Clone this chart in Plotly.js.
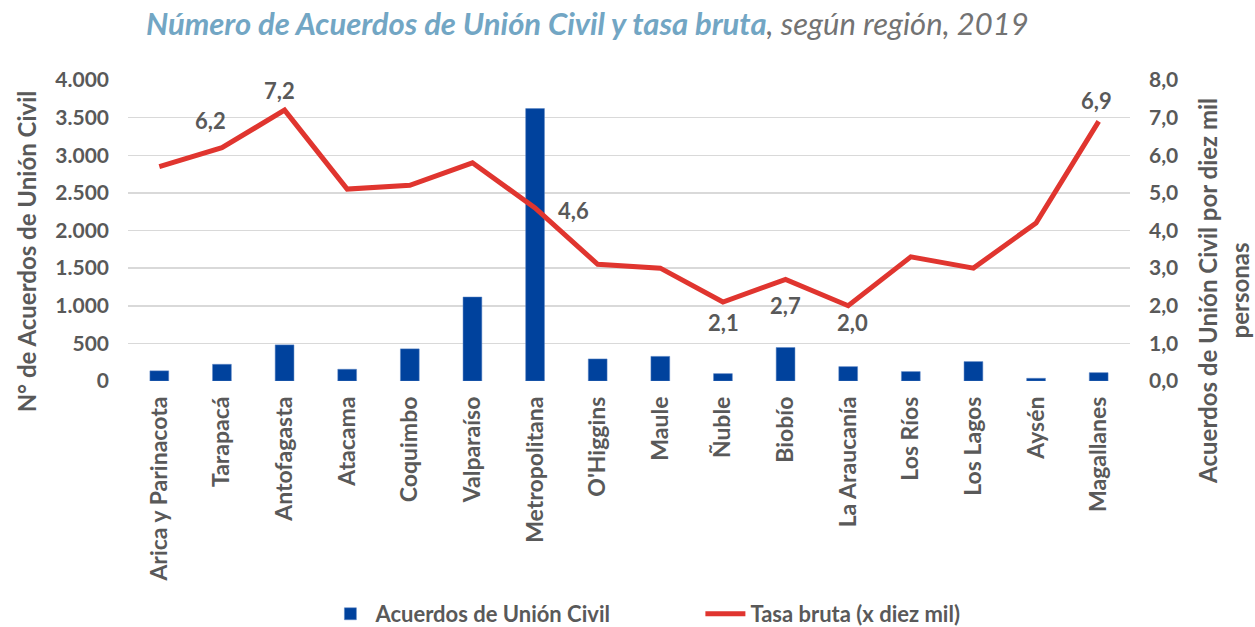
<!DOCTYPE html>
<html>
<head>
<meta charset="utf-8">
<script src="https://cdn.plot.ly/plotly-3.0.1.min.js"></script>
<style>
  body { margin: 0; background: #ffffff; }
  #chart { width: 1255px; height: 627px; }
</style>
</head>
<body>
<div id="chart"></div>
<script>
// datos
var regiones = ["Arica y Parinacota", "Tarapacá", "Antofagasta", "Atacama", "Coquimbo",
  "Valparaíso", "Metropolitana", "O'Higgins", "Maule", "Ñuble", "Biobío",
  "La Araucanía", "Los Ríos", "Los Lagos", "Aysén", "Magallanes"];
var acuerdos = [135, 222, 480, 156, 427, 1116, 3620, 293, 327, 98, 445, 191, 125, 258, 36, 111];
var tasa = [5.7, 6.2, 7.2, 5.1, 5.2, 5.8, 4.6, 3.1, 3.0, 2.1, 2.7, 2.0, 3.3, 3.0, 4.2, 6.9];
// etiquetas de datos visibles: indice -> desplazamiento [x, y] en px
var etiquetas = {1: [-11, 27], 2: [-5, 20], 6: [38, -3], 9: [1, -21],
  10: [0, -26], 11: [4, -17], 15: [-2, 21]};

var gris = "#595959";
var fuente = "Lato, 'Open Sans', sans-serif";

var trazas = [{
  type: "bar",
  name: "Acuerdos de Unión Civil",
  x: regiones,
  y: acuerdos,
  marker: { color: "#00429d", line: { color: "#5b84c4", width: 0.5 } },
  yaxis: "y"
}, {
  type: "scatter",
  mode: "lines",
  name: "Tasa bruta (x diez mil)",
  x: regiones,
  y: tasa,
  yaxis: "y2",
  line: { color: "#e0352f", width: 5 },
  cliponaxis: false
}];

var anotaciones = Object.keys(etiquetas).map(function (k) {
  var i = +k;
  return {
    x: regiones[i], y: tasa[i], xref: "x", yref: "y2",
    text: tasa[i].toFixed(1).replace(".", ","),
    showarrow: false,
    xshift: etiquetas[i][0], yshift: etiquetas[i][1],
    font: { family: fuente, size: 22, color: gris, weight: "bold" }
  };
});

// titulos de ejes
anotaciones.push({
  text: "N° de Acuerdos de Unión Civil",
  xref: "paper", yref: "paper", x: -0.101, y: 0.43,
  xanchor: "center", yanchor: "middle", textangle: -90, showarrow: false,
  font: { family: fuente, size: 24, color: gris, weight: "bold" }
});
anotaciones.push({
  text: "Acuerdos de Unión Civil por diez mil<br>personas",
  xref: "paper", yref: "paper", x: 1.093, y: 0.30,
  xanchor: "center", yanchor: "middle", textangle: -90, showarrow: false,
  font: { family: fuente, size: 24, color: gris, weight: "bold" }
});

var layout = {
  width: 1255,
  height: 627,
  paper_bgcolor: "#ffffff",
  plot_bgcolor: "#ffffff",
  separators: ",.",
  font: { family: fuente, color: gris },
  margin: { l: 128, r: 125, t: 80, b: 246, autoexpand: false },
  bargap: 0.7,
  showlegend: true,
  annotations: anotaciones,
  title: {
    text: "<b><i><span style='color:#72a6c4'>Número de Acuerdos de Unión Civil y tasa bruta</span></i></b><i><span style='color:#737373'>, según región, 2019</span></i>",
    font: { family: fuente, size: 31 },
    xref: "container", yref: "container",
    x: 0.468, xanchor: "center",
    y: 0.962, yanchor: "middle"
  },
  xaxis: {
    tickangle: -90,
    tickfont: { family: fuente, size: 23, color: gris, weight: "bold" },
    ticklabelstandoff: 10,
    showgrid: false,
    showline: false,
    ticks: ""
  },
  yaxis: {
    range: [0, 4000],
    dtick: 500,
    tickformat: ",d",
    tickfont: { family: fuente, size: 21, color: gris, weight: "bold" },
    ticklabelstandoff: 18,
    gridcolor: "#d9d9d9",
    gridwidth: 1.5,
    zeroline: false,
    showline: false,
    ticks: ""
  },
  yaxis2: {
    range: [0, 8],
    dtick: 1,
    tickformat: ".1f",
    overlaying: "y",
    side: "right",
    showgrid: false,
    zeroline: false,
    showline: false,
    ticks: "",
    ticklabelstandoff: 18,
    tickfont: { family: fuente, size: 21, color: gris, weight: "bold" }
  },
  legend: {
    orientation: "h",
    x: 0.197, xanchor: "left",
    y: -0.774, yanchor: "middle",
    font: { family: fuente, size: 22, color: gris, weight: "bold" },
    itemwidth: 40,
    entrywidth: 320
  }
};

Plotly.newPlot("chart", trazas, layout, { displayModeBar: false, staticPlot: true });
</script>
</body>
</html>
